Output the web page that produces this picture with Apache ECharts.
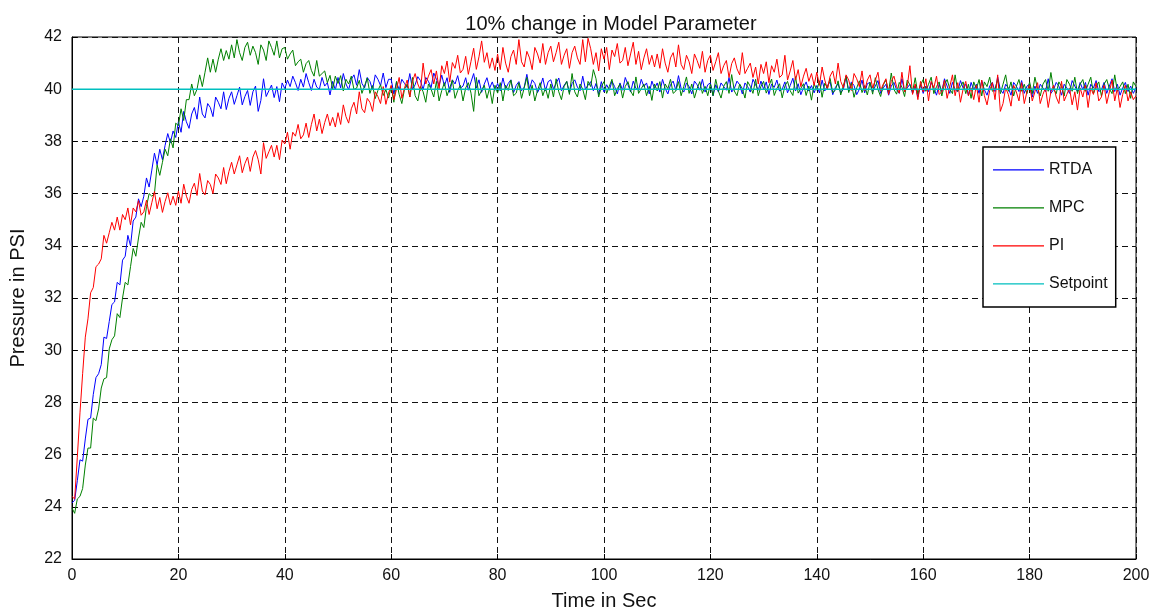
<!DOCTYPE html>
<html>
<head>
<meta charset="utf-8">
<script src="https://cdn.jsdelivr.net/npm/echarts@6/dist/echarts.min.js"></script>
<style>
  html, body { margin: 0; padding: 0; background: #fff; }
  #chart { width: 1160px; height: 616px; }
</style>
</head>
<body>
<div id="chart"></div>
<script>
// sample step of the recorded runs (seconds)
const dt = 0.5;

const xTicks = [0, 20, 40, 60, 80, 100, 120, 140, 160, 180, 200];
const yTicks = [22, 24, 26, 28, 30, 32, 34, 36, 38, 40, 42];

const setpointTime = [0, 200];
const setpoint = [40, 40];

// PI response
const pi = [
  24.4, 24.3, 25.9, 27.6, 29.1, 30.5, 31.2, 32.2, 32.4, 33.2, 33.3, 33.5, 34.4, 34.1, 34.5, 34.9, 34.6, 35.1, 34.6, 35.2,
  35.0, 35.45, 34.8, 35.45, 35.3, 35.73, 35.17, 35.3, 35.75, 35.2, 35.65, 36.08, 35.42, 35.85, 35.28, 35.7, 36.03, 35.56, 35.9, 35.55,
  36.1, 35.63, 36.36, 35.9, 35.63, 36.16, 36.4, 35.93, 36.77, 36.1, 35.95, 36.5, 36.35, 36.0, 36.75, 36.6, 36.35, 37.0, 36.38, 36.85,
  37.2, 36.75, 37.1, 37.45, 36.8, 37.15, 37.4, 36.85, 37.4, 37.65, 37.3, 36.75, 37.95, 37.35, 37.6, 37.85, 37.4, 37.85, 37.3, 38.05,
  37.9, 38.35, 37.7, 38.35, 38.2, 38.65, 38.1, 38.25, 38.7, 38.15, 38.65, 39.05, 38.4, 38.85, 38.3, 38.72, 39.05, 38.6, 38.92, 38.55,
  39.1, 38.65, 39.4, 38.95, 38.7, 39.25, 39.5, 39.05, 39.9, 39.25, 39.1, 39.65, 39.5, 39.15, 39.9, 39.72, 39.45, 40.1, 39.42, 39.85,
  40.15, 39.6, 40.0, 40.45, 39.65, 40.05, 40.35, 39.7, 40.3, 40.6, 40.2, 39.95, 41.0, 40.2, 40.5, 40.75, 40.2, 40.7, 40.0, 40.9,
  40.6, 41.08, 40.27, 41.02, 40.8, 41.3, 40.62, 40.76, 41.26, 40.57, 41.07, 41.57, 40.76, 41.24, 41.85, 41.03, 41.4, 40.8, 41.2, 40.72,
  41.35, 40.75, 41.6, 41.0, 40.65, 41.25, 41.5, 40.95, 41.9, 41.05, 40.85, 41.45, 41.2, 40.75, 41.6, 41.35, 41.0, 41.75, 40.95, 41.4,
  41.65, 41.05, 41.4, 41.8, 40.95, 41.3, 41.55, 40.8, 41.4, 41.65, 41.2, 40.95, 41.9, 41.05, 41.95, 41.55, 40.95, 41.4, 40.7, 41.55,
  41.15, 41.6, 40.75, 41.5, 41.25, 41.75, 41.0, 41.1, 41.6, 40.9, 41.35, 41.8, 40.95, 41.45, 40.75, 41.2, 41.55, 40.95, 41.3, 40.85,
  41.35, 40.8, 41.55, 41.0, 40.65, 41.2, 41.4, 40.85, 41.7, 40.95, 40.75, 41.3, 41.05, 40.6, 41.35, 41.1, 40.8, 41.45, 40.65, 41.1,
  41.3, 40.72, 41.05, 41.4, 40.6, 40.9, 41.1, 40.45, 40.98, 41.2, 40.78, 40.55, 41.4, 40.6, 40.8, 41.0, 40.45, 40.85, 40.2, 40.95,
  40.6, 41.05, 40.25, 40.9, 40.65, 41.15, 40.45, 40.55, 41.3, 40.35, 40.7, 41.1, 40.35, 40.75, 40.1, 40.5, 40.8, 40.3, 40.6, 40.15,
  40.65, 40.15, 40.85, 40.35, 40.0, 40.5, 40.7, 40.2, 41.0, 40.3, 40.05, 40.55, 40.35, 39.95, 40.6, 40.4, 40.1, 40.7, 39.95, 40.35,
  40.55, 40.05, 40.35, 40.65, 39.95, 40.2, 40.4, 39.8, 40.3, 40.5, 40.1, 39.85, 40.65, 39.9, 40.1, 40.9, 39.8, 40.2, 39.6, 40.3,
  39.9, 40.4, 39.55, 40.3, 40.05, 40.5, 39.8, 39.9, 40.35, 39.65, 40.1, 40.55, 39.75, 40.25, 39.5, 40.0, 40.3, 39.75, 40.05, 39.6,
  40.15, 39.5, 40.35, 39.75, 39.4, 39.95, 40.25, 39.6, 40.55, 39.15, 39.45, 40.05, 39.8, 39.35, 40.15, 39.9, 39.55, 40.25, 39.45, 39.9,
  40.15, 39.55, 39.9, 40.25, 39.45, 39.8, 40.05, 39.3, 39.9, 40.15, 39.7, 39.45, 40.3, 39.55, 39.8, 40.05, 39.4, 39.9, 39.2, 40.05,
  39.7, 40.15, 39.3, 40.05, 39.8, 40.25, 39.55, 39.7, 40.15, 39.45, 39.9, 40.35, 39.55, 40.05, 39.3, 39.8, 40.15, 39.55, 39.9, 39.6,
  39.75
];

// RTDA response
const rtda = [
  24.15, 24.25, 25.0, 25.8, 25.75, 26.6, 27.35, 27.4, 28.3, 28.95, 29.1, 29.45, 30.5, 30.45, 31.1, 31.75, 31.85, 32.6, 32.5, 33.45,
  33.6, 34.4, 34.0, 34.95, 35.1, 35.8, 35.5, 35.9, 36.6, 36.25, 36.9, 37.55, 37.1, 37.7, 37.3, 37.85, 38.3, 37.95, 38.4, 38.15,
  38.75, 38.35, 39.15, 38.75, 38.5, 39.05, 39.3, 38.85, 39.7, 39.05, 38.9, 39.45, 39.3, 38.95, 39.7, 39.5, 39.25, 39.9, 39.22, 39.65,
  39.9, 39.42, 39.75, 40.08, 39.4, 39.72, 39.95, 39.38, 39.9, 40.12, 39.15, 39.57, 40.4, 39.72, 39.94, 40.16, 39.68, 40.1, 39.52, 40.24,
  40.02, 40.35, 40.1, 40.5, 40.25, 39.95, 40.38, 40.08, 40.6, 40.25, 39.95, 40.38, 40.08, 40.0, 40.45, 40.12, 40.25, 39.78, 40.3, 39.97,
  40.45, 40.05, 40.6, 40.2, 39.98, 40.38, 40.55, 40.15, 40.75, 40.22, 40.05, 40.45, 40.3, 39.98, 40.55, 40.38, 40.14, 40.62, 40.06, 40.38,
  40.38, 39.82, 40.28, 39.97, 40.38, 40.22, 40.06, 40.6, 40.0, 40.17, 40.48, 40.33, 39.98, 40.45, 40.3, 40.06, 40.62, 40.38, 40.14, 40.54,
  40.12, 40.44, 39.88, 40.36, 40.2, 40.52, 40.04, 40.12, 40.44, 39.96, 40.28, 40.6, 40.04, 40.36, 39.88, 40.2, 40.44, 40.04, 40.28, 39.96,
  40.22, 39.94, 40.43, 40.01, 40.22, 40.36, 39.87, 40.15, 40.29, 39.94, 40.08, 40.57, 40.01, 40.36, 40.22, 39.87, 40.08, 40.43, 39.94, 40.29,
  40.36, 40.01, 40.22, 40.43, 39.94, 40.15, 40.29, 39.87, 40.22, 40.36, 40.08, 39.94, 40.5, 40.01, 40.15, 40.29, 39.94, 40.22, 39.8, 40.29,
  39.89, 40.17, 39.96, 40.31, 40.1, 39.82, 40.24, 39.96, 40.45, 40.17, 39.89, 40.31, 40.03, 39.96, 40.38, 40.1, 40.24, 39.82, 40.31, 40.03,
  40.24, 39.89, 40.38, 40.03, 39.82, 40.17, 40.31, 39.96, 40.52, 40.03, 39.89, 40.24, 40.1, 39.82, 40.31, 40.17, 39.96, 40.38, 39.89, 40.17,
  40.24, 39.75, 40.17, 39.89, 40.24, 40.1, 39.96, 40.45, 39.89, 40.03, 40.31, 40.17, 39.82, 40.24, 40.1, 39.89, 40.38, 40.17, 39.96, 40.31,
  40.0, 40.28, 39.8, 40.2, 40.07, 40.35, 39.93, 40.0, 40.28, 39.86, 40.14, 40.42, 39.93, 40.21, 39.79, 40.07, 40.28, 39.93, 40.14, 39.86,
  40.14, 39.86, 40.35, 39.93, 40.14, 40.28, 39.79, 40.07, 40.21, 39.86, 40.0, 40.49, 39.93, 40.28, 40.14, 39.79, 40.0, 40.35, 39.86, 40.21,
  40.26, 39.91, 40.12, 40.33, 39.84, 40.05, 40.19, 39.77, 40.12, 40.26, 39.98, 39.84, 40.4, 39.91, 40.05, 40.19, 39.84, 40.12, 39.7, 40.19,
  39.84, 40.12, 39.91, 40.26, 40.05, 39.77, 40.19, 39.91, 40.4, 40.12, 39.84, 40.26, 39.98, 39.91, 40.33, 40.05, 40.19, 39.77, 40.26, 39.98,
  40.19, 39.84, 40.33, 39.98, 39.77, 40.12, 40.26, 39.91, 40.47, 39.98, 39.84, 40.19, 40.05, 39.77, 40.26, 40.12, 39.91, 40.33, 39.84, 40.12,
  40.19, 39.7, 40.12, 39.84, 40.19, 40.05, 39.91, 40.4, 39.84, 39.98, 40.26, 40.12, 39.77, 40.19, 40.05, 39.84, 40.33, 40.12, 39.91, 40.26,
  39.98, 40.26, 39.77, 40.19, 40.05, 40.33, 39.91, 39.98, 40.26, 39.84, 40.12, 40.4, 39.91, 40.19, 39.77, 40.05, 40.26, 39.91, 40.12, 39.84,
  40.05
];

// MPC response
const mpc = [
  23.95, 23.75, 24.3, 24.4, 24.7, 25.6, 26.25, 26.25, 27.4, 27.3, 27.75, 28.55, 28.9, 28.95, 30.05, 30.4, 30.55, 31.4, 31.25, 32.0,
  32.6, 32.5, 33.2, 33.9, 33.6, 34.3, 34.9, 34.7, 35.5, 36.0, 35.9, 36.0, 37.1, 36.7, 37.2, 37.7, 37.45, 38.1, 37.75, 38.7,
  38.6, 39.25, 38.8, 39.6, 39.6, 40.2, 39.75, 40.0, 40.55, 40.1, 40.65, 41.2, 40.65, 41.15, 40.65, 41.15, 41.55, 41.1, 41.48, 41.15,
  41.7, 41.2, 41.9, 41.4, 41.1, 41.6, 41.8, 41.3, 41.65, 41.4, 40.95, 41.7, 41.5, 41.1, 41.85, 41.6, 41.3, 41.85, 41.2, 41.55,
  41.6, 41.15, 41.35, 41.5, 40.9, 41.05, 41.15, 40.65, 40.98, 41.1, 40.72, 40.5, 41.1, 40.5, 40.6, 40.7, 40.25, 40.53, 40.0, 40.5,
  40.22, 40.52, 39.93, 40.38, 40.2, 40.5, 39.99, 40.04, 40.34, 39.84, 40.13, 40.43, 39.84, 40.14, 39.64, 39.95, 40.17, 39.76, 39.98, 39.66,
  40.1, 39.5, 40.3, 39.8, 39.45, 40.0, 40.2, 39.7, 40.45, 39.75, 39.55, 40.1, 39.9, 39.5, 40.2, 40.0, 39.7, 40.3, 39.55, 39.95,
  40.25, 39.75, 40.05, 40.35, 39.65, 39.95, 40.15, 39.55, 40.05, 40.25, 39.85, 39.15, 40.45, 39.75, 39.95, 40.15, 39.65, 40.05, 39.45, 40.15,
  39.85, 40.25, 39.55, 40.15, 39.95, 40.35, 39.75, 39.85, 40.25, 39.65, 40.05, 40.45, 39.75, 40.15, 39.55, 39.95, 40.25, 39.75, 40.05, 39.65,
  40.2, 39.7, 40.4, 39.9, 39.6, 40.1, 40.3, 39.8, 40.6, 39.9, 39.7, 40.2, 40.0, 39.6, 40.3, 40.1, 40.75, 40.4, 39.7, 40.1,
  40.29, 39.84, 40.11, 40.38, 39.75, 40.02, 40.2, 39.66, 40.11, 40.29, 39.93, 39.75, 40.47, 39.84, 40.02, 40.2, 39.75, 40.11, 39.57, 40.2,
  39.93, 40.29, 39.66, 40.2, 40.02, 40.38, 39.84, 39.93, 40.29, 39.75, 40.11, 40.47, 39.84, 40.2, 39.66, 40.02, 40.29, 39.84, 40.11, 39.75,
  40.2, 39.75, 40.38, 39.93, 39.66, 40.11, 40.29, 39.84, 40.56, 39.93, 39.75, 40.2, 40.02, 39.66, 40.29, 40.11, 39.84, 40.38, 39.75, 40.11,
  40.3, 39.85, 40.12, 40.39, 39.76, 40.03, 40.21, 39.67, 40.12, 40.3, 39.94, 39.76, 40.48, 39.85, 40.03, 40.21, 39.76, 40.12, 39.58, 40.21,
  39.96, 40.32, 39.69, 40.23, 40.05, 40.41, 39.87, 39.96, 40.32, 39.78, 40.14, 40.5, 39.87, 40.23, 39.69, 40.05, 40.32, 39.87, 40.14, 39.78,
  40.26, 39.81, 40.44, 39.99, 39.72, 40.17, 40.35, 39.9, 40.62, 39.99, 39.81, 40.26, 40.08, 39.72, 40.35, 40.17, 39.9, 40.44, 39.81, 40.17,
  40.37, 39.92, 40.19, 40.46, 39.83, 40.1, 40.28, 39.74, 40.19, 40.37, 40.01, 39.83, 40.55, 39.92, 40.1, 40.28, 39.83, 40.19, 39.65, 40.28,
  40.01, 40.37, 39.74, 40.28, 40.1, 40.46, 39.92, 40.01, 40.37, 39.83, 40.19, 40.55, 39.92, 40.28, 39.74, 40.1, 40.37, 39.92, 40.19, 39.83,
  40.28, 39.83, 40.46, 40.01, 39.74, 40.19, 40.37, 39.92, 40.64, 40.01, 39.83, 40.28, 40.1, 39.74, 40.37, 40.19, 39.92, 40.46, 39.83, 40.19,
  40.37, 39.92, 40.19, 40.46, 39.83, 40.1, 40.28, 39.74, 40.19, 40.37, 40.01, 39.83, 40.55, 39.92, 40.1, 40.28, 39.83, 40.19, 39.65, 40.28,
  40.1
];

function toPairs (values) {
  return values.map((v, i) => [i * dt, v]);
}

var font = "'Liberation Sans', Arial, sans-serif";
// plain line for the legend keys (tiny corner marks keep the box 51x14)
var lineIcon = "path://M0,0L0.01,0L0,0.01Z M0,6.2L51,6.2L51,7.6L0,7.6Z M51,14L50.99,14L51,13.99Z";

var myChart = echarts.init(document.getElementById("chart"));

var option = {
  animation: false,
  backgroundColor: "#fff",
  textStyle: { fontFamily: font },
  title: {
    text: "10% change in Model Parameter",
    left: 606,
    textAlign: "center",
    top: 9,
    textStyle: { fontFamily: font, fontSize: 20, fontWeight: "normal", color: "#111" },
  },
  grid: {
    left: 72, right: 24, top: 37, bottom: 55,
    show: true, borderColor: "#000", borderWidth: 1, backgroundColor: "#fff",
  },
  legend: {
    orient: "vertical",
    left: 983,
    top: 147,
    padding: [15, 8, 15, 10],
    itemGap: 22,
    itemWidth: 51,
    itemHeight: 14,
    icon: lineIcon,
    backgroundColor: "#fff",
    borderColor: "#000",
    borderWidth: 1.5,
    borderRadius: 0,
    textStyle: { fontFamily: font, fontSize: 16, color: "#111" },
    data: ["RTDA", "MPC", "PI", "Setpoint"],
  },
  xAxis: {
    type: "value",
    min: xTicks[0],
    max: xTicks[xTicks.length - 1],
    interval: xTicks[1] - xTicks[0],
    name: "Time in Sec",
    nameLocation: "middle",
    nameGap: 32,
    nameTextStyle: { fontFamily: font, fontSize: 20, color: "#111" },
    axisLine: { show: true, lineStyle: { color: "#000", width: 1 } },
    axisTick: { show: true, inside: true, length: 5, lineStyle: { color: "#000" } },
    axisLabel: { fontFamily: font, fontSize: 16, color: "#111", margin: 9 },
    splitLine: { show: true, lineStyle: { color: "#111", type: [6, 4], width: 1 } },
  },
  yAxis: {
    type: "value",
    min: yTicks[0],
    max: yTicks[yTicks.length - 1],
    interval: yTicks[1] - yTicks[0],
    name: "Pressure in PSI",
    nameLocation: "middle",
    nameGap: 44,
    nameTextStyle: { fontFamily: font, fontSize: 20, color: "#111" },
    axisLine: { show: true, lineStyle: { color: "#000", width: 1 } },
    axisTick: { show: true, inside: true, length: 5, lineStyle: { color: "#000" } },
    axisLabel: { fontFamily: font, fontSize: 16, color: "#111", margin: 10 },
    splitLine: { show: true, lineStyle: { color: "#111", type: [6, 4], width: 1 } },
  },
  series: [
    {
      name: "RTDA", type: "line", symbol: "none", z: 2,
      lineStyle: { color: "#0000ff", width: 1 }, itemStyle: { color: "#0000ff" },
      data: toPairs(rtda),
    },
    {
      name: "MPC", type: "line", symbol: "none", z: 3,
      lineStyle: { color: "#008000", width: 1 }, itemStyle: { color: "#008000" },
      data: toPairs(mpc),
    },
    {
      name: "PI", type: "line", symbol: "none", z: 4,
      lineStyle: { color: "#ff0000", width: 1 }, itemStyle: { color: "#ff0000" },
      data: toPairs(pi),
    },
    {
      name: "Setpoint", type: "line", symbol: "none", z: 5,
      lineStyle: { color: "#00bfbf", width: 1.5 }, itemStyle: { color: "#00bfbf" },
      data: setpointTime.map((t, i) => [t, setpoint[i]]),
    },
  ],
};

myChart.setOption(option);
</script>
</body>
</html>
